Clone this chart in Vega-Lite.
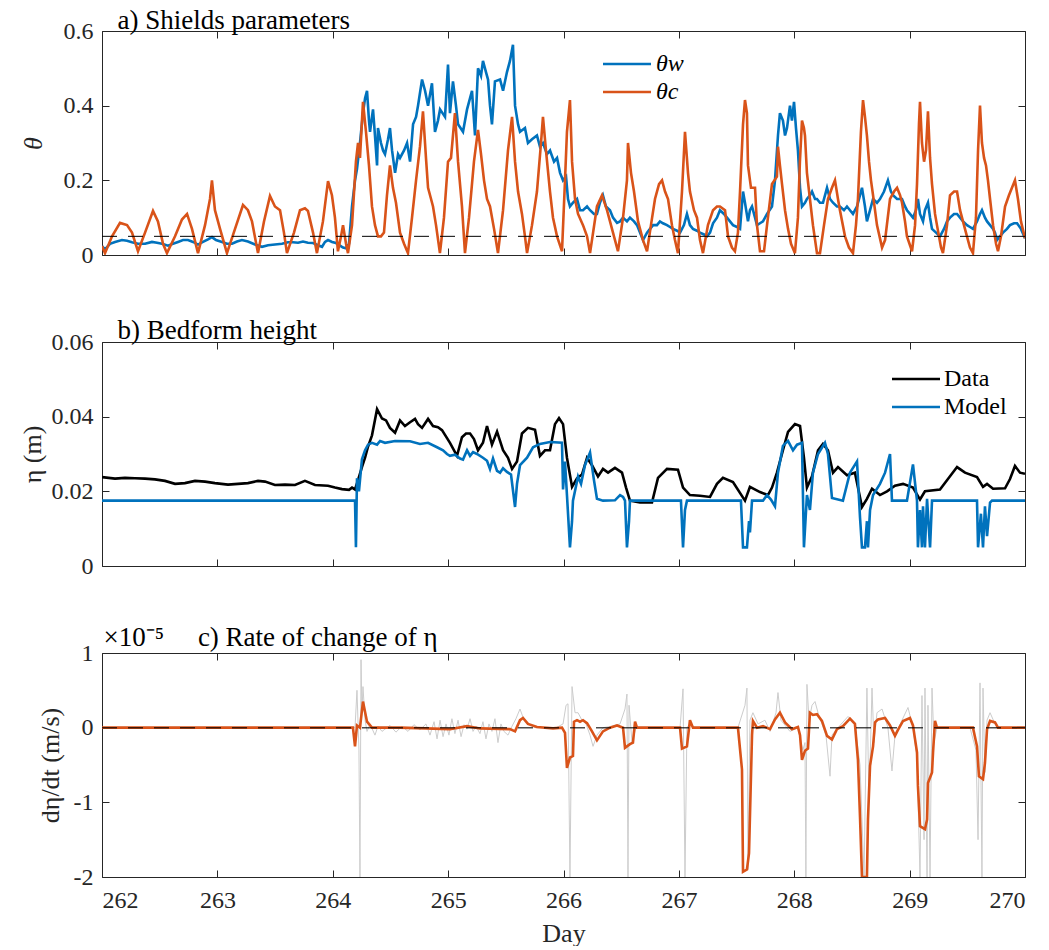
{
"$schema":"https://vega.github.io/schema/vega-lite/v6.json",
"autosize":"pad",
"padding":{"left":19,"top":6,"right":0,"bottom":0},
"bounds":"flush",
"spacing":87,
"config":{"font":"Liberation Serif","view":{"stroke":null},
"axis":{"grid":false,"domainColor":"#262626","tickColor":"#262626","labelColor":"#262626","titleColor":"#262626","labelFontSize":24,"titleFontSize":26,"titleFontWeight":"normal","tickSize":-7,"labelFont":"Liberation Serif","titleFont":"Liberation Serif","domainWidth":1,"tickWidth":1},
"legend":{"labelFont":"Liberation Serif","labelFontSize":24,"labelColor":"#000","padding":0}},
"datasets":{
"thw":[{"day":262.000,"theta":0.024},{"day":262.026,"theta":0.015},{"day":262.069,"theta":0.03},{"day":262.113,"theta":0.035},{"day":262.173,"theta":0.04},{"day":262.217,"theta":0.038},{"day":262.260,"theta":0.034},{"day":262.312,"theta":0.03},{"day":262.373,"theta":0.03},{"day":262.433,"theta":0.035},{"day":262.477,"theta":0.033},{"day":262.520,"theta":0.03},{"day":262.572,"theta":0.025},{"day":262.615,"theta":0.03},{"day":262.659,"theta":0.035},{"day":262.702,"theta":0.04},{"day":262.745,"theta":0.04},{"day":262.789,"theta":0.035},{"day":262.832,"theta":0.028},{"day":262.875,"theta":0.035},{"day":262.919,"theta":0.042},{"day":262.953,"theta":0.048},{"day":262.988,"theta":0.04},{"day":263.040,"theta":0.035},{"day":263.083,"theta":0.03},{"day":263.127,"theta":0.03},{"day":263.170,"theta":0.036},{"day":263.213,"theta":0.04},{"day":263.265,"theta":0.036},{"day":263.326,"theta":0.028},{"day":263.387,"theta":0.022},{"day":263.439,"theta":0.026},{"day":263.499,"theta":0.028},{"day":263.560,"theta":0.03},{"day":263.612,"theta":0.034},{"day":263.655,"theta":0.034},{"day":263.699,"theta":0.033},{"day":263.742,"theta":0.036},{"day":263.785,"theta":0.033},{"day":263.829,"theta":0.032},{"day":263.872,"theta":0.026},{"day":263.907,"theta":0.022},{"day":263.933,"theta":0.035},{"day":263.959,"theta":0.04},{"day":263.994,"theta":0.035},{"day":264.028,"theta":0.032},{"day":264.063,"theta":0.025},{"day":264.089,"theta":0.02},{"day":264.115,"theta":0.018},{"day":264.141,"theta":0.03},{"day":264.167,"theta":0.13},{"day":264.193,"theta":0.2},{"day":264.210,"theta":0.23},{"day":264.236,"theta":0.3},{"day":264.262,"theta":0.38},{"day":264.280,"theta":0.42},{"day":264.297,"theta":0.44},{"day":264.314,"theta":0.36},{"day":264.323,"theta":0.33},{"day":264.340,"theta":0.37},{"day":264.349,"theta":0.39},{"day":264.366,"theta":0.32},{"day":264.384,"theta":0.24},{"day":264.392,"theta":0.34},{"day":264.418,"theta":0.3},{"day":264.436,"theta":0.28},{"day":264.453,"theta":0.27},{"day":264.479,"theta":0.31},{"day":264.496,"theta":0.34},{"day":264.514,"theta":0.28},{"day":264.540,"theta":0.22},{"day":264.566,"theta":0.27},{"day":264.583,"theta":0.26},{"day":264.618,"theta":0.28},{"day":264.644,"theta":0.3},{"day":264.670,"theta":0.25},{"day":264.696,"theta":0.35},{"day":264.722,"theta":0.37},{"day":264.739,"theta":0.4},{"day":264.774,"theta":0.47},{"day":264.800,"theta":0.44},{"day":264.826,"theta":0.40},{"day":264.860,"theta":0.46},{"day":264.886,"theta":0.33},{"day":264.912,"theta":0.36},{"day":264.930,"theta":0.39},{"day":264.973,"theta":0.37},{"day":264.999,"theta":0.51},{"day":265.016,"theta":0.38},{"day":265.042,"theta":0.465},{"day":265.068,"theta":0.40},{"day":265.086,"theta":0.35},{"day":265.129,"theta":0.33},{"day":265.164,"theta":0.39},{"day":265.190,"theta":0.42},{"day":265.207,"theta":0.44},{"day":265.233,"theta":0.32},{"day":265.259,"theta":0.50},{"day":265.285,"theta":0.48},{"day":265.302,"theta":0.52},{"day":265.328,"theta":0.49},{"day":265.346,"theta":0.47},{"day":265.363,"theta":0.40},{"day":265.380,"theta":0.35},{"day":265.406,"theta":0.465},{"day":265.450,"theta":0.47},{"day":265.476,"theta":0.44},{"day":265.510,"theta":0.49},{"day":265.536,"theta":0.52},{"day":265.562,"theta":0.563},{"day":265.580,"theta":0.40},{"day":265.606,"theta":0.35},{"day":265.623,"theta":0.33},{"day":265.666,"theta":0.34},{"day":265.692,"theta":0.30},{"day":265.727,"theta":0.31},{"day":265.770,"theta":0.32},{"day":265.796,"theta":0.29},{"day":265.822,"theta":0.30},{"day":265.857,"theta":0.27},{"day":265.883,"theta":0.28},{"day":265.918,"theta":0.25},{"day":265.944,"theta":0.26},{"day":265.970,"theta":0.22},{"day":265.996,"theta":0.2},{"day":266.022,"theta":0.21},{"day":266.039,"theta":0.15},{"day":266.056,"theta":0.13},{"day":266.082,"theta":0.14},{"day":266.117,"theta":0.15},{"day":266.143,"theta":0.12},{"day":266.169,"theta":0.12},{"day":266.204,"theta":0.13},{"day":266.230,"theta":0.12},{"day":266.264,"theta":0.11},{"day":266.290,"theta":0.11},{"day":266.316,"theta":0.14},{"day":266.342,"theta":0.16},{"day":266.368,"theta":0.13},{"day":266.403,"theta":0.12},{"day":266.429,"theta":0.1},{"day":266.464,"theta":0.086},{"day":266.490,"theta":0.09},{"day":266.516,"theta":0.1},{"day":266.550,"theta":0.09},{"day":266.576,"theta":0.1},{"day":266.611,"theta":0.09},{"day":266.637,"theta":0.08},{"day":266.663,"theta":0.06},{"day":266.689,"theta":0.04},{"day":266.724,"theta":0.06},{"day":266.750,"theta":0.07},{"day":266.776,"theta":0.08},{"day":266.810,"theta":0.08},{"day":266.836,"theta":0.09},{"day":266.862,"theta":0.085},{"day":266.897,"theta":0.08},{"day":266.923,"theta":0.075},{"day":266.949,"theta":0.07},{"day":266.984,"theta":0.065},{"day":267.010,"theta":0.06},{"day":267.044,"theta":0.08},{"day":267.070,"theta":0.11},{"day":267.096,"theta":0.08},{"day":267.122,"theta":0.07},{"day":267.157,"theta":0.065},{"day":267.183,"theta":0.06},{"day":267.218,"theta":0.055},{"day":267.244,"theta":0.05},{"day":267.270,"theta":0.06},{"day":267.296,"theta":0.085},{"day":267.330,"theta":0.1},{"day":267.356,"theta":0.12},{"day":267.391,"theta":0.11},{"day":267.417,"theta":0.1},{"day":267.443,"theta":0.09},{"day":267.469,"theta":0.08},{"day":267.504,"theta":0.075},{"day":267.530,"theta":0.07},{"day":267.556,"theta":0.17},{"day":267.573,"theta":0.14},{"day":267.599,"theta":0.09},{"day":267.616,"theta":0.12},{"day":267.634,"theta":0.13},{"day":267.660,"theta":0.1},{"day":267.677,"theta":0.08},{"day":267.703,"theta":0.085},{"day":267.729,"theta":0.09},{"day":267.764,"theta":0.11},{"day":267.807,"theta":0.13},{"day":267.833,"theta":0.2},{"day":267.859,"theta":0.32},{"day":267.876,"theta":0.38},{"day":267.902,"theta":0.36},{"day":267.920,"theta":0.32},{"day":267.937,"theta":0.34},{"day":267.963,"theta":0.40},{"day":267.980,"theta":0.36},{"day":267.998,"theta":0.41},{"day":268.015,"theta":0.34},{"day":268.032,"theta":0.28},{"day":268.050,"theta":0.18},{"day":268.067,"theta":0.13},{"day":268.093,"theta":0.14},{"day":268.110,"theta":0.15},{"day":268.136,"theta":0.16},{"day":268.154,"theta":0.17},{"day":268.180,"theta":0.15},{"day":268.197,"theta":0.15},{"day":268.223,"theta":0.14},{"day":268.249,"theta":0.14},{"day":268.284,"theta":0.18},{"day":268.310,"theta":0.15},{"day":268.336,"theta":0.14},{"day":268.370,"theta":0.13},{"day":268.396,"theta":0.13},{"day":268.431,"theta":0.12},{"day":268.457,"theta":0.13},{"day":268.483,"theta":0.12},{"day":268.509,"theta":0.11},{"day":268.544,"theta":0.13},{"day":268.570,"theta":0.16},{"day":268.587,"theta":0.18},{"day":268.613,"theta":0.13},{"day":268.630,"theta":0.09},{"day":268.657,"theta":0.12},{"day":268.683,"theta":0.15},{"day":268.717,"theta":0.14},{"day":268.743,"theta":0.15},{"day":268.778,"theta":0.17},{"day":268.812,"theta":0.2},{"day":268.838,"theta":0.17},{"day":268.856,"theta":0.16},{"day":268.891,"theta":0.15},{"day":268.934,"theta":0.15},{"day":268.960,"theta":0.13},{"day":268.977,"theta":0.12},{"day":269.003,"theta":0.11},{"day":269.029,"theta":0.10},{"day":269.055,"theta":0.12},{"day":269.072,"theta":0.15},{"day":269.090,"theta":0.11},{"day":269.116,"theta":0.09},{"day":269.133,"theta":0.12},{"day":269.159,"theta":0.14},{"day":269.177,"theta":0.1},{"day":269.194,"theta":0.07},{"day":269.229,"theta":0.06},{"day":269.263,"theta":0.05},{"day":269.298,"theta":0.07},{"day":269.324,"theta":0.09},{"day":269.350,"theta":0.1},{"day":269.385,"theta":0.11},{"day":269.411,"theta":0.11},{"day":269.437,"theta":0.1},{"day":269.463,"theta":0.09},{"day":269.497,"theta":0.08},{"day":269.523,"theta":0.075},{"day":269.549,"theta":0.07},{"day":269.584,"theta":0.09},{"day":269.610,"theta":0.11},{"day":269.627,"theta":0.12},{"day":269.653,"theta":0.1},{"day":269.671,"theta":0.09},{"day":269.697,"theta":0.08},{"day":269.723,"theta":0.07},{"day":269.740,"theta":0.06},{"day":269.757,"theta":0.04},{"day":269.783,"theta":0.05},{"day":269.809,"theta":0.06},{"day":269.844,"theta":0.07},{"day":269.870,"theta":0.08},{"day":269.905,"theta":0.085},{"day":269.931,"theta":0.085},{"day":269.965,"theta":0.07},{"day":270.000,"theta":0.045}],
"thc":[{"day":262.000,"theta":0.024},{"day":262.026,"theta":0.005},{"day":262.087,"theta":0.05},{"day":262.156,"theta":0.086},{"day":262.217,"theta":0.08},{"day":262.260,"theta":0.06},{"day":262.312,"theta":0.01},{"day":262.373,"theta":0.06},{"day":262.442,"theta":0.118},{"day":262.485,"theta":0.09},{"day":262.529,"theta":0.03},{"day":262.563,"theta":0.005},{"day":262.633,"theta":0.05},{"day":262.693,"theta":0.095},{"day":262.737,"theta":0.11},{"day":262.780,"theta":0.07},{"day":262.832,"theta":0.005},{"day":262.893,"theta":0.08},{"day":262.936,"theta":0.15},{"day":262.953,"theta":0.20},{"day":262.979,"theta":0.12},{"day":263.023,"theta":0.07},{"day":263.083,"theta":0.005},{"day":263.153,"theta":0.07},{"day":263.222,"theta":0.134},{"day":263.265,"theta":0.12},{"day":263.300,"theta":0.09},{"day":263.352,"theta":0.005},{"day":263.404,"theta":0.09},{"day":263.456,"theta":0.158},{"day":263.499,"theta":0.13},{"day":263.543,"theta":0.12},{"day":263.577,"theta":0.06},{"day":263.603,"theta":0.005},{"day":263.664,"theta":0.06},{"day":263.716,"theta":0.12},{"day":263.759,"theta":0.125},{"day":263.785,"theta":0.118},{"day":263.829,"theta":0.06},{"day":263.863,"theta":0.005},{"day":263.915,"theta":0.09},{"day":263.959,"theta":0.198},{"day":263.993,"theta":0.16},{"day":264.019,"theta":0.1},{"day":264.045,"theta":0.01},{"day":264.072,"theta":0.05},{"day":264.089,"theta":0.08},{"day":264.115,"theta":0.03},{"day":264.132,"theta":0.005},{"day":264.167,"theta":0.08},{"day":264.201,"theta":0.25},{"day":264.219,"theta":0.30},{"day":264.236,"theta":0.26},{"day":264.262,"theta":0.41},{"day":264.288,"theta":0.33},{"day":264.314,"theta":0.24},{"day":264.340,"theta":0.13},{"day":264.366,"theta":0.08},{"day":264.392,"theta":0.05},{"day":264.418,"theta":0.05},{"day":264.444,"theta":0.06},{"day":264.470,"theta":0.16},{"day":264.496,"theta":0.24},{"day":264.522,"theta":0.18},{"day":264.548,"theta":0.14},{"day":264.583,"theta":0.06},{"day":264.618,"theta":0.03},{"day":264.652,"theta":0.005},{"day":264.687,"theta":0.1},{"day":264.722,"theta":0.2},{"day":264.756,"theta":0.29},{"day":264.782,"theta":0.385},{"day":264.808,"theta":0.26},{"day":264.826,"theta":0.18},{"day":264.852,"theta":0.15},{"day":264.869,"theta":0.13},{"day":264.895,"theta":0.08},{"day":264.929,"theta":0.005},{"day":264.964,"theta":0.1},{"day":264.999,"theta":0.25},{"day":265.025,"theta":0.26},{"day":265.059,"theta":0.38},{"day":265.086,"theta":0.25},{"day":265.120,"theta":0.13},{"day":265.146,"theta":0.005},{"day":265.181,"theta":0.1},{"day":265.224,"theta":0.25},{"day":265.259,"theta":0.335},{"day":265.285,"theta":0.27},{"day":265.311,"theta":0.2},{"day":265.337,"theta":0.15},{"day":265.363,"theta":0.13},{"day":265.398,"theta":0.07},{"day":265.432,"theta":0.005},{"day":265.476,"theta":0.12},{"day":265.519,"theta":0.28},{"day":265.554,"theta":0.37},{"day":265.580,"theta":0.25},{"day":265.606,"theta":0.17},{"day":265.640,"theta":0.11},{"day":265.666,"theta":0.05},{"day":265.684,"theta":0.005},{"day":265.727,"theta":0.08},{"day":265.770,"theta":0.17},{"day":265.805,"theta":0.3},{"day":265.822,"theta":0.37},{"day":265.848,"theta":0.28},{"day":265.883,"theta":0.17},{"day":265.909,"theta":0.1},{"day":265.944,"theta":0.05},{"day":265.987,"theta":0.01},{"day":266.013,"theta":0.2},{"day":266.030,"theta":0.33},{"day":266.056,"theta":0.415},{"day":266.074,"theta":0.25},{"day":266.100,"theta":0.15},{"day":266.126,"theta":0.11},{"day":266.169,"theta":0.08},{"day":266.204,"theta":0.05},{"day":266.230,"theta":0.005},{"day":266.290,"theta":0.13},{"day":266.334,"theta":0.16},{"day":266.377,"theta":0.12},{"day":266.429,"theta":0.06},{"day":266.472,"theta":0.01},{"day":266.516,"theta":0.1},{"day":266.550,"theta":0.2},{"day":266.559,"theta":0.30},{"day":266.585,"theta":0.22},{"day":266.611,"theta":0.17},{"day":266.646,"theta":0.09},{"day":266.689,"theta":0.04},{"day":266.724,"theta":0.01},{"day":266.758,"theta":0.08},{"day":266.793,"theta":0.15},{"day":266.828,"theta":0.19},{"day":266.854,"theta":0.2},{"day":266.880,"theta":0.17},{"day":266.906,"theta":0.15},{"day":266.940,"theta":0.08},{"day":266.966,"theta":0.04},{"day":266.992,"theta":0.005},{"day":267.027,"theta":0.17},{"day":267.053,"theta":0.33},{"day":267.079,"theta":0.22},{"day":267.096,"theta":0.17},{"day":267.131,"theta":0.12},{"day":267.157,"theta":0.1},{"day":267.183,"theta":0.04},{"day":267.209,"theta":0.005},{"day":267.252,"theta":0.08},{"day":267.296,"theta":0.12},{"day":267.330,"theta":0.13},{"day":267.356,"theta":0.13},{"day":267.400,"theta":0.12},{"day":267.426,"theta":0.05},{"day":267.460,"theta":0.02},{"day":267.486,"theta":0.01},{"day":267.512,"theta":0.06},{"day":267.530,"theta":0.17},{"day":267.556,"theta":0.35},{"day":267.573,"theta":0.415},{"day":267.590,"theta":0.38},{"day":267.599,"theta":0.24},{"day":267.625,"theta":0.18},{"day":267.660,"theta":0.18},{"day":267.677,"theta":0.08},{"day":267.703,"theta":0.01},{"day":267.738,"theta":0.01},{"day":267.764,"theta":0.08},{"day":267.807,"theta":0.19},{"day":267.850,"theta":0.21},{"day":267.859,"theta":0.29},{"day":267.876,"theta":0.24},{"day":267.894,"theta":0.19},{"day":267.920,"theta":0.12},{"day":267.946,"theta":0.07},{"day":267.972,"theta":0.03},{"day":268.006,"theta":0.005},{"day":268.032,"theta":0.1},{"day":268.049,"theta":0.25},{"day":268.067,"theta":0.36},{"day":268.084,"theta":0.34},{"day":268.093,"theta":0.32},{"day":268.110,"theta":0.22},{"day":268.136,"theta":0.15},{"day":268.162,"theta":0.08},{"day":268.197,"theta":0.005},{"day":268.223,"theta":0.005},{"day":268.258,"theta":0.08},{"day":268.292,"theta":0.15},{"day":268.327,"theta":0.18},{"day":268.353,"theta":0.2},{"day":268.379,"theta":0.15},{"day":268.396,"theta":0.12},{"day":268.440,"theta":0.05},{"day":268.474,"theta":0.02},{"day":268.509,"theta":0.005},{"day":268.535,"theta":0.08},{"day":268.552,"theta":0.15},{"day":268.578,"theta":0.33},{"day":268.596,"theta":0.415},{"day":268.613,"theta":0.37},{"day":268.630,"theta":0.32},{"day":268.648,"theta":0.25},{"day":268.665,"theta":0.2},{"day":268.683,"theta":0.16},{"day":268.717,"theta":0.08},{"day":268.761,"theta":0.02},{"day":268.787,"theta":0.04},{"day":268.830,"theta":0.15},{"day":268.865,"theta":0.17},{"day":268.891,"theta":0.18},{"day":268.917,"theta":0.16},{"day":268.934,"theta":0.14},{"day":268.960,"theta":0.09},{"day":268.977,"theta":0.05},{"day":269.021,"theta":0.01},{"day":269.047,"theta":0.08},{"day":269.064,"theta":0.19},{"day":269.081,"theta":0.35},{"day":269.090,"theta":0.41},{"day":269.107,"theta":0.3},{"day":269.125,"theta":0.25},{"day":269.142,"theta":0.28},{"day":269.159,"theta":0.385},{"day":269.177,"theta":0.26},{"day":269.194,"theta":0.19},{"day":269.220,"theta":0.11},{"day":269.237,"theta":0.08},{"day":269.272,"theta":0.02},{"day":269.289,"theta":0.005},{"day":269.324,"theta":0.08},{"day":269.350,"theta":0.16},{"day":269.385,"theta":0.17},{"day":269.411,"theta":0.17},{"day":269.437,"theta":0.12},{"day":269.471,"theta":0.08},{"day":269.497,"theta":0.05},{"day":269.523,"theta":0.02},{"day":269.549,"theta":0.005},{"day":269.575,"theta":0.1},{"day":269.593,"theta":0.28},{"day":269.610,"theta":0.40},{"day":269.627,"theta":0.3},{"day":269.645,"theta":0.26},{"day":269.662,"theta":0.24},{"day":269.679,"theta":0.2},{"day":269.697,"theta":0.15},{"day":269.723,"theta":0.08},{"day":269.749,"theta":0.03},{"day":269.766,"theta":0.01},{"day":269.792,"theta":0.05},{"day":269.827,"theta":0.13},{"day":269.861,"theta":0.16},{"day":269.887,"theta":0.18},{"day":269.913,"theta":0.2},{"day":269.939,"theta":0.15},{"day":269.965,"theta":0.09},{"day":270.000,"theta":0.045}],
"thr":[{"day":262,"theta":0.05},{"day":270,"theta":0.05}],
"dat":[{"day":262.000,"eta":0.0238},{"day":262.113,"eta":0.0234},{"day":262.199,"eta":0.0236},{"day":262.286,"eta":0.0235},{"day":262.373,"eta":0.0234},{"day":262.459,"eta":0.0232},{"day":262.546,"eta":0.0228},{"day":262.633,"eta":0.022},{"day":262.719,"eta":0.0222},{"day":262.806,"eta":0.0228},{"day":262.893,"eta":0.0226},{"day":262.979,"eta":0.0222},{"day":263.092,"eta":0.0218},{"day":263.179,"eta":0.022},{"day":263.265,"eta":0.0222},{"day":263.352,"eta":0.0228},{"day":263.413,"eta":0.0226},{"day":263.499,"eta":0.0217},{"day":263.586,"eta":0.0218},{"day":263.673,"eta":0.0217},{"day":263.759,"eta":0.0228},{"day":263.846,"eta":0.0217},{"day":263.959,"eta":0.0215},{"day":264.019,"eta":0.021},{"day":264.080,"eta":0.0206},{"day":264.141,"eta":0.0204},{"day":264.167,"eta":0.021},{"day":264.193,"eta":0.0205},{"day":264.219,"eta":0.023},{"day":264.253,"eta":0.0265},{"day":264.280,"eta":0.029},{"day":264.306,"eta":0.032},{"day":264.340,"eta":0.035},{"day":264.384,"eta":0.042},{"day":264.427,"eta":0.0395},{"day":264.462,"eta":0.039},{"day":264.496,"eta":0.037},{"day":264.540,"eta":0.0357},{"day":264.583,"eta":0.039},{"day":264.626,"eta":0.0375},{"day":264.670,"eta":0.0385},{"day":264.713,"eta":0.0394},{"day":264.739,"eta":0.038},{"day":264.774,"eta":0.037},{"day":264.826,"eta":0.0394},{"day":264.869,"eta":0.0375},{"day":264.912,"eta":0.0372},{"day":264.947,"eta":0.0364},{"day":265.016,"eta":0.033},{"day":265.077,"eta":0.0295},{"day":265.120,"eta":0.0345},{"day":265.155,"eta":0.0355},{"day":265.190,"eta":0.0355},{"day":265.224,"eta":0.034},{"day":265.259,"eta":0.031},{"day":265.302,"eta":0.033},{"day":265.337,"eta":0.0375},{"day":265.380,"eta":0.0325},{"day":265.424,"eta":0.036},{"day":265.476,"eta":0.031},{"day":265.519,"eta":0.029},{"day":265.554,"eta":0.026},{"day":265.597,"eta":0.028},{"day":265.640,"eta":0.0355},{"day":265.692,"eta":0.037},{"day":265.753,"eta":0.0365},{"day":265.796,"eta":0.0295},{"day":265.840,"eta":0.031},{"day":265.883,"eta":0.031},{"day":265.926,"eta":0.038},{"day":265.961,"eta":0.0396},{"day":265.996,"eta":0.038},{"day":266.030,"eta":0.029},{"day":266.074,"eta":0.0212},{"day":266.117,"eta":0.0235},{"day":266.160,"eta":0.0245},{"day":266.204,"eta":0.029},{"day":266.247,"eta":0.027},{"day":266.299,"eta":0.024},{"day":266.342,"eta":0.026},{"day":266.386,"eta":0.025},{"day":266.446,"eta":0.0263},{"day":266.507,"eta":0.025},{"day":266.542,"eta":0.021},{"day":266.576,"eta":0.0175},{"day":266.663,"eta":0.017},{"day":266.767,"eta":0.017},{"day":266.819,"eta":0.0236},{"day":266.897,"eta":0.026},{"day":266.992,"eta":0.0258},{"day":267.036,"eta":0.021},{"day":267.096,"eta":0.019},{"day":267.183,"eta":0.0188},{"day":267.270,"eta":0.0185},{"day":267.330,"eta":0.022},{"day":267.382,"eta":0.0236},{"day":267.469,"eta":0.0225},{"day":267.573,"eta":0.0175},{"day":267.616,"eta":0.0212},{"day":267.703,"eta":0.0198},{"day":267.772,"eta":0.019},{"day":267.807,"eta":0.021},{"day":267.850,"eta":0.025},{"day":267.902,"eta":0.031},{"day":267.946,"eta":0.0359},{"day":268.006,"eta":0.038},{"day":268.050,"eta":0.0375},{"day":268.084,"eta":0.029},{"day":268.110,"eta":0.021},{"day":268.154,"eta":0.024},{"day":268.206,"eta":0.031},{"day":268.249,"eta":0.0327},{"day":268.292,"eta":0.031},{"day":268.336,"eta":0.025},{"day":268.379,"eta":0.0265},{"day":268.457,"eta":0.0243},{"day":268.526,"eta":0.025},{"day":268.587,"eta":0.0158},{"day":268.630,"eta":0.018},{"day":268.674,"eta":0.0207},{"day":268.743,"eta":0.019},{"day":268.804,"eta":0.020},{"day":268.873,"eta":0.0215},{"day":268.943,"eta":0.022},{"day":269.029,"eta":0.021},{"day":269.090,"eta":0.0178},{"day":269.133,"eta":0.020},{"day":269.263,"eta":0.0205},{"day":269.332,"eta":0.0233},{"day":269.411,"eta":0.0265},{"day":269.480,"eta":0.025},{"day":269.584,"eta":0.0238},{"day":269.636,"eta":0.0212},{"day":269.671,"eta":0.022},{"day":269.723,"eta":0.0207},{"day":269.827,"eta":0.0208},{"day":269.870,"eta":0.0233},{"day":269.913,"eta":0.0268},{"day":269.957,"eta":0.025},{"day":270.000,"eta":0.0247}],
"mod":[{"day":262.000,"eta":0.0175},{"day":264.193,"eta":0.0175},{"day":264.201,"eta":0.005},{"day":264.210,"eta":0.0235},{"day":264.227,"eta":0.02},{"day":264.253,"eta":0.0286},{"day":264.280,"eta":0.031},{"day":264.306,"eta":0.0325},{"day":264.340,"eta":0.033},{"day":264.384,"eta":0.0325},{"day":264.410,"eta":0.0335},{"day":264.453,"eta":0.033},{"day":264.540,"eta":0.0335},{"day":264.670,"eta":0.0334},{"day":264.756,"eta":0.0327},{"day":264.826,"eta":0.033},{"day":264.904,"eta":0.0318},{"day":264.956,"eta":0.031},{"day":264.990,"eta":0.030},{"day":265.016,"eta":0.0295},{"day":265.059,"eta":0.0298},{"day":265.103,"eta":0.0288},{"day":265.129,"eta":0.0285},{"day":265.164,"eta":0.031},{"day":265.190,"eta":0.0295},{"day":265.216,"eta":0.0305},{"day":265.250,"eta":0.030},{"day":265.302,"eta":0.029},{"day":265.337,"eta":0.0282},{"day":265.363,"eta":0.026},{"day":265.389,"eta":0.0288},{"day":265.424,"eta":0.0255},{"day":265.450,"eta":0.025},{"day":265.476,"eta":0.0262},{"day":265.510,"eta":0.0252},{"day":265.545,"eta":0.0245},{"day":265.580,"eta":0.0158},{"day":265.597,"eta":0.022},{"day":265.623,"eta":0.027},{"day":265.684,"eta":0.029},{"day":265.736,"eta":0.0318},{"day":265.796,"eta":0.0327},{"day":265.883,"eta":0.0332},{"day":265.987,"eta":0.033},{"day":265.996,"eta":0.0205},{"day":266.013,"eta":0.028},{"day":266.030,"eta":0.019},{"day":266.056,"eta":0.005},{"day":266.074,"eta":0.012},{"day":266.082,"eta":0.0175},{"day":266.126,"eta":0.024},{"day":266.152,"eta":0.022},{"day":266.186,"eta":0.027},{"day":266.230,"eta":0.0304},{"day":266.264,"eta":0.023},{"day":266.290,"eta":0.018},{"day":266.342,"eta":0.0175},{"day":266.446,"eta":0.0176},{"day":266.490,"eta":0.019},{"day":266.516,"eta":0.0185},{"day":266.533,"eta":0.0175},{"day":266.550,"eta":0.005},{"day":266.568,"eta":0.012},{"day":266.576,"eta":0.0175},{"day":267.018,"eta":0.0175},{"day":267.036,"eta":0.005},{"day":267.053,"eta":0.015},{"day":267.070,"eta":0.0175},{"day":267.538,"eta":0.0175},{"day":267.556,"eta":0.005},{"day":267.590,"eta":0.005},{"day":267.608,"eta":0.012},{"day":267.616,"eta":0.009},{"day":267.634,"eta":0.0175},{"day":267.729,"eta":0.0175},{"day":267.764,"eta":0.019},{"day":267.798,"eta":0.0178},{"day":267.833,"eta":0.016},{"day":267.859,"eta":0.025},{"day":267.902,"eta":0.0322},{"day":267.946,"eta":0.0335},{"day":267.989,"eta":0.031},{"day":268.024,"eta":0.0325},{"day":268.067,"eta":0.033},{"day":268.084,"eta":0.005},{"day":268.110,"eta":0.019},{"day":268.136,"eta":0.015},{"day":268.162,"eta":0.025},{"day":268.206,"eta":0.030},{"day":268.266,"eta":0.033},{"day":268.292,"eta":0.030},{"day":268.327,"eta":0.0182},{"day":268.422,"eta":0.0175},{"day":268.483,"eta":0.025},{"day":268.544,"eta":0.028},{"day":268.570,"eta":0.013},{"day":268.587,"eta":0.005},{"day":268.613,"eta":0.005},{"day":268.630,"eta":0.012},{"day":268.639,"eta":0.005},{"day":268.657,"eta":0.015},{"day":268.683,"eta":0.019},{"day":268.743,"eta":0.022},{"day":268.787,"eta":0.025},{"day":268.830,"eta":0.030},{"day":268.847,"eta":0.0175},{"day":268.977,"eta":0.0175},{"day":269.029,"eta":0.0272},{"day":269.064,"eta":0.0175},{"day":269.072,"eta":0.005},{"day":269.090,"eta":0.015},{"day":269.107,"eta":0.005},{"day":269.116,"eta":0.016},{"day":269.133,"eta":0.005},{"day":269.151,"eta":0.018},{"day":269.177,"eta":0.005},{"day":269.194,"eta":0.0175},{"day":269.584,"eta":0.0175},{"day":269.593,"eta":0.005},{"day":269.618,"eta":0.014},{"day":269.636,"eta":0.005},{"day":269.653,"eta":0.016},{"day":269.671,"eta":0.008},{"day":269.697,"eta":0.017},{"day":269.714,"eta":0.0175},{"day":270.000,"eta":0.0175}],
"gry":[{"day":262.000,"rate":0},{"day":264.193,"rate":0},{"day":264.210,"rate":0.5},{"day":264.227,"rate":-0.3},{"day":264.236,"rate":-2.0},{"day":264.245,"rate":0.91},{"day":264.253,"rate":0.2},{"day":264.262,"rate":0.55},{"day":264.280,"rate":0.1},{"day":264.297,"rate":-0.05},{"day":264.323,"rate":0.05},{"day":264.366,"rate":-0.1},{"day":264.392,"rate":0.02},{"day":264.427,"rate":-0.05},{"day":264.496,"rate":0.03},{"day":264.548,"rate":-0.06},{"day":264.600,"rate":0.02},{"day":264.652,"rate":-0.05},{"day":264.704,"rate":0.04},{"day":264.756,"rate":-0.03},{"day":264.808,"rate":0.05},{"day":264.843,"rate":-0.1},{"day":264.878,"rate":0.08},{"day":264.904,"rate":-0.15},{"day":264.930,"rate":0.1},{"day":264.956,"rate":-0.12},{"day":264.982,"rate":0.05},{"day":265.007,"rate":-0.1},{"day":265.033,"rate":0.12},{"day":265.059,"rate":-0.08},{"day":265.086,"rate":0.1},{"day":265.112,"rate":-0.12},{"day":265.138,"rate":0.04},{"day":265.164,"rate":-0.02},{"day":265.190,"rate":0.12},{"day":265.216,"rate":-0.05},{"day":265.242,"rate":0.02},{"day":265.276,"rate":-0.08},{"day":265.302,"rate":0.08},{"day":265.328,"rate":-0.15},{"day":265.354,"rate":0.05},{"day":265.380,"rate":-0.05},{"day":265.406,"rate":0.12},{"day":265.432,"rate":-0.2},{"day":265.458,"rate":0.05},{"day":265.484,"rate":-0.05},{"day":265.519,"rate":-0.1},{"day":265.554,"rate":0.02},{"day":265.588,"rate":0.12},{"day":265.623,"rate":0.25},{"day":265.658,"rate":0.1},{"day":265.692,"rate":0.05},{"day":265.753,"rate":0.0},{"day":265.840,"rate":0.0},{"day":265.926,"rate":-0.01},{"day":265.996,"rate":0.05},{"day":266.022,"rate":0.3},{"day":266.039,"rate":0.32},{"day":266.056,"rate":-2.0},{"day":266.074,"rate":0.55},{"day":266.100,"rate":0.2},{"day":266.126,"rate":0.2},{"day":266.160,"rate":0.1},{"day":266.195,"rate":0.05},{"day":266.230,"rate":-0.1},{"day":266.256,"rate":-0.25},{"day":266.290,"rate":-0.1},{"day":266.342,"rate":0},{"day":266.420,"rate":0.02},{"day":266.490,"rate":0.05},{"day":266.533,"rate":0.25},{"day":266.550,"rate":0.45},{"day":266.559,"rate":-2.0},{"day":266.568,"rate":0.3},{"day":266.594,"rate":-0.2},{"day":266.628,"rate":0.0},{"day":267.010,"rate":0.0},{"day":267.036,"rate":0.52},{"day":267.053,"rate":-2.0},{"day":267.070,"rate":0.0},{"day":267.096,"rate":0.05},{"day":267.140,"rate":0},{"day":267.512,"rate":0},{"day":267.573,"rate":0.3},{"day":267.590,"rate":0.53},{"day":267.599,"rate":-1.9},{"day":267.616,"rate":0.1},{"day":267.642,"rate":0.2},{"day":267.686,"rate":0.05},{"day":267.746,"rate":0.1},{"day":267.790,"rate":-0.05},{"day":267.842,"rate":0.2},{"day":267.859,"rate":0.47},{"day":267.885,"rate":0.1},{"day":267.963,"rate":-0.05},{"day":268.032,"rate":0.0},{"day":268.075,"rate":-0.3},{"day":268.093,"rate":-0.2},{"day":268.101,"rate":-2.0},{"day":268.110,"rate":0.58},{"day":268.128,"rate":0.1},{"day":268.154,"rate":0.3},{"day":268.180,"rate":0.35},{"day":268.206,"rate":0.2},{"day":268.240,"rate":0.05},{"day":268.275,"rate":-0.1},{"day":268.310,"rate":-0.65},{"day":268.327,"rate":-0.1},{"day":268.379,"rate":0.0},{"day":268.466,"rate":0.15},{"day":268.526,"rate":0.05},{"day":268.570,"rate":-0.5},{"day":268.605,"rate":-2.0},{"day":268.630,"rate":0.53},{"day":268.648,"rate":-1.0},{"day":268.674,"rate":0.53},{"day":268.691,"rate":-0.2},{"day":268.717,"rate":0.2},{"day":268.761,"rate":0.25},{"day":268.812,"rate":0.0},{"day":268.847,"rate":-0.58},{"day":268.873,"rate":-0.1},{"day":268.934,"rate":0.1},{"day":268.986,"rate":0.27},{"day":269.029,"rate":0.0},{"day":269.064,"rate":-0.4},{"day":269.090,"rate":-2.0},{"day":269.107,"rate":0.43},{"day":269.125,"rate":-1.5},{"day":269.133,"rate":0.53},{"day":269.151,"rate":-2.0},{"day":269.159,"rate":0.3},{"day":269.177,"rate":-2.0},{"day":269.194,"rate":0.53},{"day":269.211,"rate":-0.2},{"day":269.237,"rate":0.0},{"day":269.523,"rate":0},{"day":269.575,"rate":-0.3},{"day":269.593,"rate":-1.5},{"day":269.610,"rate":0.6},{"day":269.627,"rate":-2.0},{"day":269.636,"rate":0.53},{"day":269.653,"rate":-0.6},{"day":269.671,"rate":0.1},{"day":269.697,"rate":0.2},{"day":269.740,"rate":0.05},{"day":269.783,"rate":0},{"day":270.000,"rate":0}],
"org":[{"day":262.000,"rate":0},{"day":264.175,"rate":0},{"day":264.193,"rate":-0.25},{"day":264.210,"rate":0.03},{"day":264.236,"rate":0.0},{"day":264.262,"rate":0.35},{"day":264.297,"rate":0.08},{"day":264.340,"rate":0},{"day":264.583,"rate":0},{"day":265.016,"rate":-0.02},{"day":265.164,"rate":0.02},{"day":265.276,"rate":-0.01},{"day":265.536,"rate":-0.02},{"day":265.580,"rate":-0.05},{"day":265.623,"rate":0.1},{"day":265.649,"rate":0.13},{"day":265.692,"rate":0.05},{"day":265.770,"rate":0.01},{"day":265.909,"rate":-0.01},{"day":265.987,"rate":0},{"day":266.013,"rate":-0.07},{"day":266.030,"rate":-0.54},{"day":266.056,"rate":-0.4},{"day":266.082,"rate":-0.38},{"day":266.091,"rate":0.08},{"day":266.117,"rate":0.1},{"day":266.143,"rate":0.08},{"day":266.169,"rate":0.1},{"day":266.204,"rate":0.06},{"day":266.247,"rate":-0.05},{"day":266.290,"rate":-0.17},{"day":266.342,"rate":-0.05},{"day":266.403,"rate":0},{"day":266.464,"rate":0.03},{"day":266.516,"rate":0},{"day":266.533,"rate":-0.27},{"day":266.576,"rate":-0.22},{"day":266.602,"rate":-0.2},{"day":266.620,"rate":0.08},{"day":266.637,"rate":0},{"day":267.010,"rate":0},{"day":267.027,"rate":-0.28},{"day":267.070,"rate":-0.25},{"day":267.096,"rate":0.1},{"day":267.122,"rate":0},{"day":267.512,"rate":0},{"day":267.547,"rate":-0.56},{"day":267.556,"rate":-1.93},{"day":267.590,"rate":-1.9},{"day":267.608,"rate":-1.68},{"day":267.634,"rate":-0.1},{"day":267.642,"rate":0.09},{"day":267.677,"rate":0.0},{"day":267.729,"rate":0.02},{"day":267.790,"rate":-0.02},{"day":267.833,"rate":0.11},{"day":267.876,"rate":0.2},{"day":267.920,"rate":0.07},{"day":267.980,"rate":-0.02},{"day":268.032,"rate":0.01},{"day":268.050,"rate":-0.1},{"day":268.067,"rate":-0.43},{"day":268.093,"rate":-0.31},{"day":268.119,"rate":-0.28},{"day":268.136,"rate":0.2},{"day":268.162,"rate":0.17},{"day":268.197,"rate":0.18},{"day":268.240,"rate":0.09},{"day":268.284,"rate":-0.11},{"day":268.327,"rate":-0.16},{"day":268.370,"rate":-0.02},{"day":268.422,"rate":0.02},{"day":268.483,"rate":0.12},{"day":268.526,"rate":0.05},{"day":268.552,"rate":-0.43},{"day":268.570,"rate":-1.2},{"day":268.587,"rate":-2.0},{"day":268.630,"rate":-2.0},{"day":268.639,"rate":-1.23},{"day":268.657,"rate":-0.51},{"day":268.683,"rate":-0.25},{"day":268.700,"rate":0.07},{"day":268.726,"rate":0.11},{"day":268.787,"rate":0.13},{"day":268.830,"rate":0.03},{"day":268.873,"rate":-0.11},{"day":268.899,"rate":-0.03},{"day":268.943,"rate":0.09},{"day":269.003,"rate":0.13},{"day":269.029,"rate":0.03},{"day":269.064,"rate":-0.33},{"day":269.072,"rate":-0.78},{"day":269.090,"rate":-1.32},{"day":269.133,"rate":-1.36},{"day":269.151,"rate":-1.23},{"day":269.159,"rate":-0.74},{"day":269.194,"rate":-0.6},{"day":269.203,"rate":-0.33},{"day":269.220,"rate":0.09},{"day":269.237,"rate":0},{"day":269.549,"rate":0},{"day":269.584,"rate":-0.25},{"day":269.601,"rate":-0.65},{"day":269.636,"rate":-0.69},{"day":269.653,"rate":-0.47},{"day":269.671,"rate":-0.02},{"day":269.697,"rate":0.09},{"day":269.740,"rate":0.07},{"day":269.766,"rate":0},{"day":270.000,"rate":0}],
"zro":[{"day":262,"rate":0},{"day":270,"rate":0}]
},
"resolve":{"scale":{"color":"independent"},"legend":{"color":"independent"}},
"vconcat":[
{"width":923,"height":224,
"layer":[
{"data":{"name":"thw"},"mark":{"type":"line","strokeWidth":2.6,"clip":true},
"encoding":{
"x":{"field":"day","type":"quantitative","scale":{"domain":[262,270],"nice":false,"zero":false},"axis":{"values":[262,263,264,265,266,267,268,269,270],"labels":false,"title":null}},
"y":{"field":"theta","type":"quantitative","scale":{"domain":[0,0.6],"nice":false,"zero":false},"axis":{"values":[0,0.2,0.4,0.6],"labelExpr":"datum.value == 0 ? '0' : format(datum.value, '.1f')","title":"θ","titleFontStyle":"italic","titleX":-69,"titleBaseline":"middle","labelPadding":16}},
"color":{"datum":"θw","type":"nominal","scale":{"domain":["θw","θc"],"range":["#0072BD","#D95319"]},"legend":{"orient":"none","legendX":489,"legendY":21,"title":null,"symbolType":"M0,0H8","symbolSize":144,"symbolStrokeWidth":2.6,"labelOffset":41,"labelFontStyle":"italic","rowPadding":4}}}},
{"data":{"name":"thc"},"mark":{"type":"line","strokeWidth":2.6,"clip":true},
"encoding":{"x":{"field":"day","type":"quantitative","axis":null},"y":{"field":"theta","type":"quantitative","axis":null},"color":{"datum":"θc","type":"nominal"}}},
{"data":{"name":"thr"},"mark":{"type":"line","color":"#000","strokeWidth":1,"strokeDash":[15,11]},
"encoding":{"x":{"field":"day","type":"quantitative","axis":{"orient":"top","values":[262,263,264,265,266,267,268,269,270],"labels":false,"title":"a) Shields parameters","titleX":15,"titleY":-3,"titleAlign":"left","titleAngle":0,"titleBaseline":"alphabetic","titleFontSize":27,"titleColor":"#000"}},"y":{"field":"theta","type":"quantitative","axis":{"orient":"right","values":[0,0.2,0.4,0.6],"labels":false,"title":null}}}}
],
"resolve":{"axis":{"x":"independent","y":"independent"}}},
{"width":923,"height":224,
"layer":[
{"data":{"name":"dat"},"mark":{"type":"line","strokeWidth":2.6,"clip":true},
"encoding":{
"x":{"field":"day","type":"quantitative","scale":{"domain":[262,270],"nice":false,"zero":false},"axis":{"values":[262,263,264,265,266,267,268,269,270],"labels":false,"title":null}},
"y":{"field":"eta","type":"quantitative","scale":{"domain":[0,0.06],"nice":false,"zero":false},"axis":{"values":[0,0.02,0.04,0.06],"labelExpr":"datum.value == 0 ? '0' : format(datum.value, '.2f')","title":"η (m)","titleX":-70,"titleBaseline":"middle","labelPadding":16}},
"color":{"datum":"Data","type":"nominal","scale":{"domain":["Data","Model"],"range":["#000000","#0072BD"]},"legend":{"orient":"none","legendX":778,"legendY":25,"title":null,"symbolType":"M0,0H8","symbolSize":144,"symbolStrokeWidth":2.6,"labelOffset":40,"rowPadding":4}}}},
{"data":{"name":"mod"},"mark":{"type":"line","strokeWidth":2.6,"clip":true},
"encoding":{"x":{"field":"day","type":"quantitative","axis":{"orient":"top","values":[262,263,264,265,266,267,268,269,270],"labels":false,"title":"b) Bedform height","titleX":15,"titleY":-4,"titleAlign":"left","titleAngle":0,"titleBaseline":"alphabetic","titleFontSize":27,"titleColor":"#000"}},"y":{"field":"eta","type":"quantitative","axis":{"orient":"right","values":[0,0.02,0.04,0.06],"labels":false,"title":null}},"color":{"datum":"Model","type":"nominal"}}}
],
"resolve":{"axis":{"x":"independent","y":"independent"}}},
{"width":923,"height":224,
"layer":[
{"data":{"name":"gry"},"mark":{"type":"line","strokeWidth":1,"color":"#cccccc","clip":true},
"encoding":{
"x":{"field":"day","type":"quantitative","scale":{"domain":[262,270],"nice":false,"zero":false},"axis":{"values":[262,263,264,265,266,267,268,269,270],"format":"d","title":"Day","labelPadding":18,"titlePadding":8}},
"y":{"field":"rate","type":"quantitative","scale":{"domain":[-2,1],"nice":false,"zero":false},"axis":{"values":[-2,-1,0,1],"labelExpr":"toString(datum.value)","title":"dη/dt (m/s)","titleX":-52,"titleBaseline":"middle","labelPadding":16}}}},
{"data":{"name":"org"},"mark":{"type":"line","strokeWidth":2.6,"color":"#D95319","clip":true},
"encoding":{"x":{"field":"day","type":"quantitative","axis":null},"y":{"field":"rate","type":"quantitative","axis":null}}},
{"data":{"name":"zro"},"mark":{"type":"line","color":"#000","opacity":0.7,"strokeWidth":1.5,"strokeDash":[15,11]},
"encoding":{"x":{"field":"day","type":"quantitative","axis":{"orient":"top","values":[262,263,264,265,266,267,268,269,270],"labels":false,"title":"×10⁻⁵\u00a0\u00a0\u00a0\u00a0\u00a0c) Rate of change of η","titleX":1,"titleY":-8,"titleAlign":"left","titleAngle":0,"titleBaseline":"alphabetic","titleFontSize":27,"titleColor":"#000"}},"y":{"field":"rate","type":"quantitative","axis":{"orient":"right","values":[-2,-1,0,1],"labels":false,"title":null}}}}
],
"resolve":{"axis":{"x":"independent","y":"independent"}}}
]
}
